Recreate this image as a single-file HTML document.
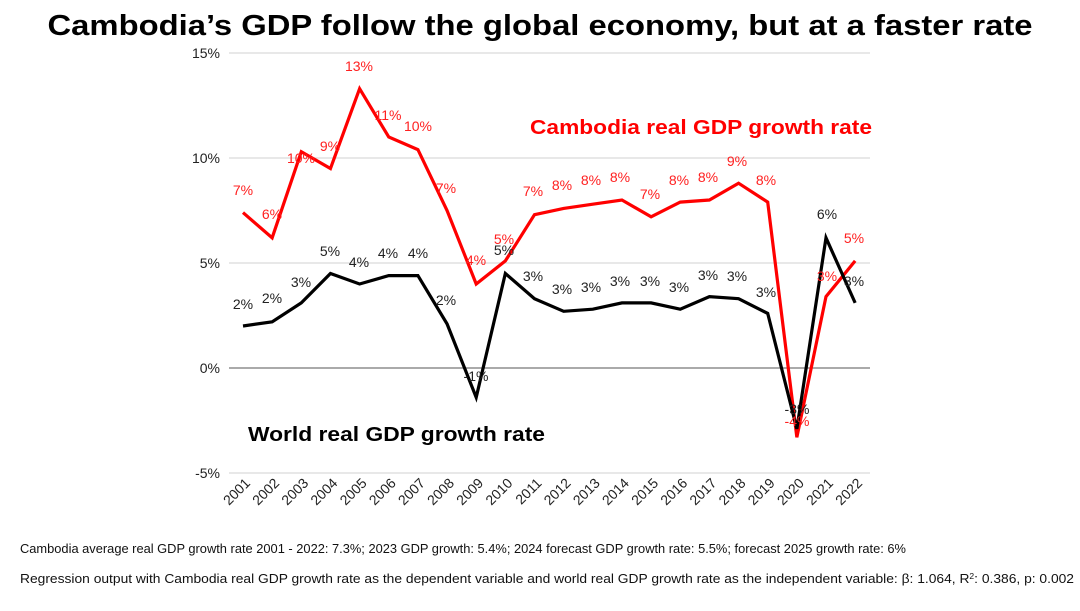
<!DOCTYPE html>
<html><head><meta charset="utf-8"><style>
body{margin:0;background:#fff;width:1080px;height:606px;overflow:hidden;font-family:"Liberation Sans",Arial,sans-serif}
</style></head><body>
<svg width="1080" height="606" xmlns="http://www.w3.org/2000/svg" font-family="Liberation Sans, Arial, sans-serif">
<text x="540" y="35" text-anchor="middle" font-size="29" font-weight="bold" textLength="985" lengthAdjust="spacingAndGlyphs">Cambodia’s GDP follow the global economy, but at a faster rate</text>
<g stroke="#d9d9d9" stroke-width="1.3">
<line x1="229" x2="870" y1="53" y2="53"/><line x1="229" x2="870" y1="158" y2="158"/><line x1="229" x2="870" y1="263" y2="263"/><line x1="229" x2="870" y1="473" y2="473"/>
</g>
<line x1="229" x2="870" y1="368" y2="368" stroke="#777" stroke-width="1.3"/>
<g font-size="14" text-anchor="end" fill="#222">
<text x="220" y="58">15%</text><text x="220" y="163">10%</text><text x="220" y="268">5%</text><text x="220" y="373">0%</text><text x="220" y="478">-5%</text>
</g>
<g font-size="14" fill="#222" text-anchor="end" id="xt"></g>
<polyline id="red" fill="none" stroke="#ff0000" stroke-width="3.2" stroke-linejoin="miter"/>
<polyline id="blk" fill="none" stroke="#000" stroke-width="3.2" stroke-linejoin="miter"/>
<g id="lr" font-size="14" fill="#ff2020" text-anchor="middle"></g>
<g id="lb" font-size="14" fill="#222" text-anchor="middle"></g>
<text x="530" y="134" font-size="20" font-weight="bold" fill="#ff0000" textLength="342" lengthAdjust="spacingAndGlyphs">Cambodia real GDP growth rate</text>
<text x="248" y="441" font-size="20" font-weight="bold" fill="#000" textLength="297" lengthAdjust="spacingAndGlyphs">World real GDP growth rate</text>
<text x="20" y="553" font-size="12.5" fill="#111" textLength="886" lengthAdjust="spacingAndGlyphs">Cambodia average real GDP growth rate 2001 - 2022: 7.3%; 2023 GDP growth: 5.4%; 2024 forecast GDP growth rate: 5.5%; forecast 2025 growth rate: 6%</text>
<text x="20" y="583" font-size="13" fill="#111" textLength="1054" lengthAdjust="spacingAndGlyphs">Regression output with Cambodia real GDP growth rate as the dependent variable and world real GDP growth rate as the independent variable: β: 1.064, R<tspan font-size="8" dy="-4">2</tspan><tspan dy="4">: 0.386, p: 0.002</tspan></text>
</svg>
<script>
var NS="http://www.w3.org/2000/svg";
function X(i){return 243+29.15*i}
function Y(v){return 368-21*v}
var red=[7.4,6.2,10.3,9.5,13.3,11.0,10.4,7.5,4.0,5.1,7.3,7.6,7.8,8.0,7.2,7.9,8.0,8.8,7.9,-3.3,3.4,5.1];
var blk=[2.0,2.2,3.1,4.5,4.0,4.4,4.4,2.1,-1.4,4.5,3.3,2.7,2.8,3.1,3.1,2.8,3.4,3.3,2.6,-2.9,6.2,3.1];
document.getElementById('red').setAttribute('points',red.map((v,i)=>X(i)+','+Y(v)).join(' '));
document.getElementById('blk').setAttribute('points',blk.map((v,i)=>X(i)+','+Y(v)).join(' '));
var rl=[["7%",190],["6%",214],["10%",158],["9%",146],["13%",66],["11%",115],["10%",126],["7%",188],["4%",260],["5%",239],["7%",191],["8%",185],["8%",180],["8%",177],["7%",194],["8%",180],["8%",177],["9%",161],["8%",180],["-4%",421],["3%",276],["5%",238]];
var rx=[243,272,301,330,359,388,418,446,476,504,533,562,591,620,650,679,708,737,766,797,827,854];
var bl=[["2%",304],["2%",298],["3%",282],["5%",251],["4%",262],["4%",253],["4%",253],["2%",300],["-1%",376],["5%",250],["3%",276],["3%",289],["3%",287],["3%",281],["3%",281],["3%",287],["3%",275],["3%",276],["3%",292],["-3%",409],["6%",214],["3%",281]];
function add(g,x,y,t){var e=document.createElementNS(NS,'text');e.setAttribute('x',x);e.setAttribute('y',y+5);e.textContent=t;document.getElementById(g).appendChild(e);}
rl.forEach((l,i)=>add('lr',rx[i],l[1],l[0]));
bl.forEach((l,i)=>add('lb',rx[i],l[1],l[0]));
for(var i=0;i<22;i++){var e=document.createElementNS(NS,'text');var x=X(i)+8,y=484;e.setAttribute('x',x);e.setAttribute('y',y);e.setAttribute('transform','rotate(-45 '+x+' '+y+')');e.textContent=2001+i;document.getElementById('xt').appendChild(e);}
</script>
</body></html>
